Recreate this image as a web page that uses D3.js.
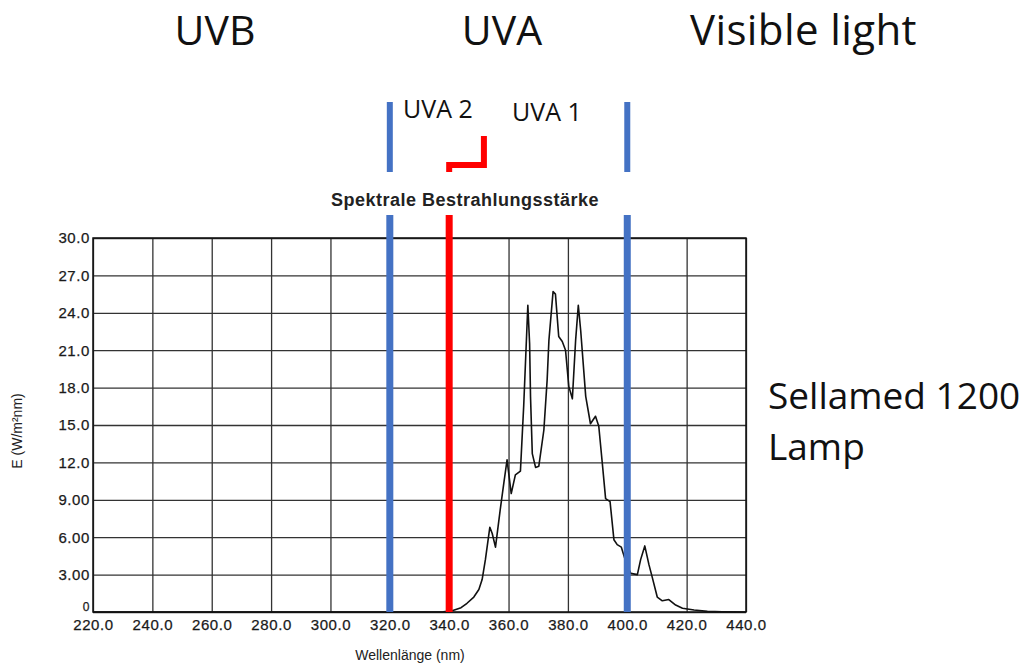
<!DOCTYPE html>
<html>
<head>
<meta charset="utf-8">
<script src="https://cdn.jsdelivr.net/npm/d3@7"></script>
<style>
  body { margin: 0; background: #fff; }
  svg { display: block; }
</style>
</head>
<body>
<svg id="chart"></svg>
<script>
const width = 1024;
const height = 668;
const margin = { top: 238, right: 278, bottom: 56, left: 93 };

// spectrum of the lamp (nm, W/m²nm)
const wavelengths = [220, 330, 338, 341, 344, 346, 348.3, 350, 351.1, 352.2, 353.7, 354.5, 355.6, 357.3, 358.5,
  359.5, 360.9, 362.3, 364.0, 365.1, 366.5, 367.1, 367.4, 368.0, 369.1, 370.2, 371.9, 373.0, 373.6, 375.0,
  375.8, 376.9, 378.1, 379.2, 380.3, 381.5, 382.6, 383.5, 384.3, 386.0, 387.6, 389.3, 390.4, 391.6, 392.7,
  394.2, 395.5, 396.6, 398.0, 399.8, 401.2, 403.4, 404.5, 405.9, 407.3, 408.4, 410.1, 411.8, 414.0, 416.3,
  418.6, 422.5, 427, 432, 440];
const irradiance = [0, 0, 0.02, 0.1, 0.35, 0.7, 1.2, 1.8, 2.6, 4.2, 6.8, 6.3, 5.2, 8.4, 10.5,
  12.2, 9.5, 11.0, 11.3, 16.5, 24.6, 21.5, 17.3, 12.7, 11.6, 11.7, 14.6, 18.6, 21.8, 25.7,
  25.5, 22.1, 21.7, 21.0, 18.1, 17.1, 21.8, 24.6, 22.6, 17.3, 15.1, 15.7, 14.9, 11.9, 9.1,
  8.85, 5.8, 5.4, 5.2, 3.8, 3.1, 3.0, 4.2, 5.3, 3.8, 2.8, 1.2, 0.9, 1.0, 0.56,
  0.3, 0.16, 0.05, 0.02, 0];

const xTicks = [220, 240, 260, 280, 300, 320, 340, 360, 380, 400, 420, 440];
const xTickLabels = ["220.0", "240.0", "260.0", "280.0", "300.0", "320.0", "340.0", "360.0", "380.0", "400.0", "420.0", "440.0"];
const yTicks = [0, 3, 6, 9, 12, 15, 18, 21, 24, 27, 30];
const yTickLabels = ["0", "3.00", "6.00", "9.00", "12.0", "15.0", "18.0", "21.0", "24.0", "27.0", "30.0"];

// band borders (blue) and UVA2/UVA1 border (red)
const bandBorders = [320, 400];
const uvaSplit = 340;
const bracket = [[340, 172], [340, 165], [351.7, 165], [351.7, 136]];

const bandNames = ["UVB", "UVA", "Visible light"];
const subBandNames = ["UVA 2", "UVA 1"];

const svg = d3.select("#chart")
              .attr("width", width)
              .attr("height", height);

const xScale = d3.scaleLinear()
                 .domain([220, 440])
                 .range([margin.left, width - margin.right]);
const yScale = d3.scaleLinear()
                 .domain([0, 30])
                 .range([height - margin.bottom, margin.top]);

const plotW = width - margin.right - margin.left;
const plotH = height - margin.bottom - margin.top;

// grid
svg.append("g")
   .attr("class", "grid")
   .attr("transform", `translate(0, ${height - margin.bottom})`)
   .call(d3.axisBottom(xScale).tickValues(xTicks).tickSize(-plotH).tickFormat(""))
   .call(g => g.select(".domain").remove());
svg.append("g")
   .attr("class", "grid")
   .attr("transform", `translate(${margin.left}, 0)`)
   .call(d3.axisLeft(yScale).tickValues(yTicks).tickSize(-plotW).tickFormat(""))
   .call(g => g.select(".domain").remove());
svg.selectAll(".grid line")
   .attr("stroke", "#333")
   .attr("stroke-width", 1.3);

// tick labels
const xAxis = d3.axisBottom(xScale)
                .tickValues(xTicks)
                .tickSize(0)
                .tickPadding(7)
                .tickFormat((d, i) => xTickLabels[i]);
const yAxis = d3.axisLeft(yScale)
                .tickValues(yTicks)
                .tickSize(0)
                .tickPadding(3)
                .tickFormat((d, i) => yTickLabels[i]);

svg.append("g")
   .attr("class", "axis")
   .attr("transform", `translate(0, ${height - margin.bottom})`)
   .call(xAxis);
svg.append("g")
   .attr("class", "axis y-axis")
   .attr("transform", `translate(${margin.left}, 0)`)
   .call(yAxis);
svg.selectAll(".axis .domain").remove();
svg.selectAll(".axis text")
   .attr("font-family", "Liberation Sans, Arial, sans-serif")
   .attr("font-size", 15)
   .attr("letter-spacing", 0.6)
   .attr("fill", "#1a1a1a")
   .attr("stroke", "#1a1a1a")
   .attr("stroke-width", 0.25);
// the zero label sits raised and small, clear of 220.0
svg.selectAll(".y-axis text")
   .filter(d => d === 0)
   .attr("font-size", 12)
   .attr("dy", "-0.1em");

// frame
svg.append("rect")
   .attr("x", margin.left)
   .attr("y", margin.top)
   .attr("width", plotW)
   .attr("height", plotH)
   .attr("fill", "none")
   .attr("stroke", "#111")
   .attr("stroke-width", 1.5);

// spectrum
const line = d3.line()
               .x((d, i) => xScale(wavelengths[i]))
               .y(d => yScale(d));
svg.append("path")
   .datum(irradiance)
   .attr("d", line)
   .attr("fill", "none")
   .attr("stroke", "#111")
   .attr("stroke-width", 1.6)
   .attr("stroke-linejoin", "round");

// band border lines, upper and lower pieces
svg.selectAll(".border-low")
   .data(bandBorders)
   .enter()
   .append("line")
   .attr("x1", d => xScale(d)).attr("x2", d => xScale(d))
   .attr("y1", 215).attr("y2", yScale(0))
   .attr("stroke", "#4472C4")
   .attr("stroke-width", 7);
svg.selectAll(".border-high")
   .data(bandBorders)
   .enter()
   .append("line")
   .attr("x1", d => xScale(d)).attr("x2", d => xScale(d))
   .attr("y1", 102).attr("y2", 172)
   .attr("stroke", "#4472C4")
   .attr("stroke-width", 6);

svg.append("line")
   .attr("x1", xScale(uvaSplit)).attr("x2", xScale(uvaSplit))
   .attr("y1", 215).attr("y2", yScale(0))
   .attr("stroke", "#FF0000")
   .attr("stroke-width", 7);
svg.append("path")
   .attr("d", d3.line().x(d => xScale(d[0])).y(d => d[1])(bracket))
   .attr("fill", "none")
   .attr("stroke", "#FF0000")
   .attr("stroke-width", 6);

// texts
const big = "Open Sans, Noto Sans, sans-serif";
svg.append("text").attr("x", 215).attr("y", 45).attr("text-anchor", "middle")
   .attr("font-family", big).attr("font-size", 41).attr("fill", "#111").text(bandNames[0]);
svg.append("text").attr("x", 502).attr("y", 45).attr("text-anchor", "middle")
   .attr("font-family", big).attr("font-size", 41).attr("fill", "#111").text(bandNames[1]);
svg.append("text").attr("x", 690).attr("y", 45)
   .attr("font-family", big).attr("font-size", 42).attr("letter-spacing", 0.4)
   .attr("fill", "#111").text(bandNames[2]);

svg.append("text").attr("x", 403).attr("y", 118)
   .attr("font-family", big).attr("font-size", 25).attr("fill", "#111").text(subBandNames[0]);
svg.append("text").attr("x", 512).attr("y", 121)
   .attr("font-family", big).attr("font-size", 25).attr("fill", "#111").text(subBandNames[1]);

svg.append("text").attr("x", 465).attr("y", 206).attr("text-anchor", "middle")
   .attr("font-family", "Liberation Sans, Arial, sans-serif").attr("font-size", 18)
   .attr("font-weight", "bold").attr("letter-spacing", 0.5)
   .attr("fill", "#222").text("Spektrale Bestrahlungsstärke");

svg.append("text").attr("x", 768).attr("y", 409)
   .attr("font-family", big).attr("font-size", 37).attr("fill", "#111").text("Sellamed 1200");
svg.append("text").attr("x", 768).attr("y", 460)
   .attr("font-family", big).attr("font-size", 37).attr("fill", "#111").text("Lamp");

svg.append("text")
   .attr("transform", "translate(22, 431) rotate(-90)")
   .attr("text-anchor", "middle")
   .attr("font-family", "Liberation Sans, Arial, sans-serif").attr("font-size", 14)
   .attr("fill", "#222").text("E  (W/m²nm)");

svg.append("text").attr("x", 410).attr("y", 660).attr("text-anchor", "middle")
   .attr("font-family", "Liberation Sans, Arial, sans-serif").attr("font-size", 14)
   .attr("fill", "#222").text("Wellenlänge  (nm)");
</script>
</body>
</html>
